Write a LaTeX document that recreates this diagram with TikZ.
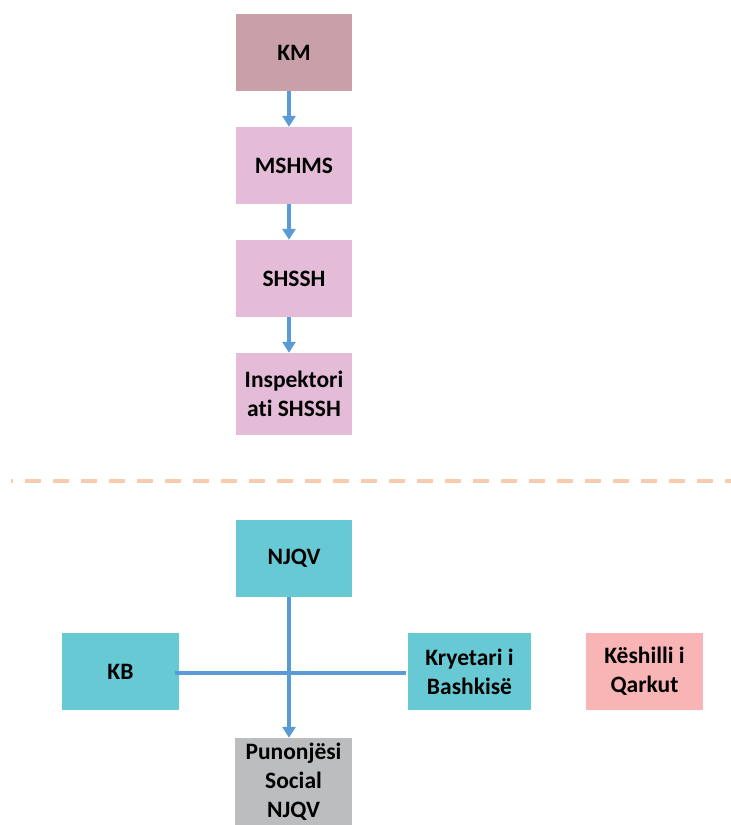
\documentclass[tikz,border=0pt]{standalone}
\usepackage{fontspec}
\setmainfont{Carlito}[Ligatures={NoCommon}]
\usetikzlibrary{arrows.meta}
\definecolor{kmcol}{HTML}{C9A0A8}
\definecolor{pinkcol}{HTML}{E4BCD8}
\definecolor{tealcol}{HTML}{66C9D4}
\definecolor{greycol}{HTML}{BBBDBF}
\definecolor{rosecol}{HTML}{F9B4B5}
\definecolor{linecol}{HTML}{5B9BD5}
\definecolor{dashcol}{HTML}{F8CBAD}
\tikzset{
  box/.style={rectangle, inner sep=0pt, align=center, text=black,
    font=\fontsize{23.5}{29}\selectfont\bfseries},
  conn/.style={draw=linecol, line width=4pt},
  arr/.style={conn, -{Triangle[width=13pt,length=11pt]}},
  sep/.style={draw=dashcol, line width=3.5pt, dash pattern=on 16pt off 12pt, dash phase=14pt}
}
\begin{document}
\begin{tikzpicture}[x=1pt,y=-1pt]
\useasboundingbox (0,0) rectangle (731,825);
\begin{scope}
\clip (0,0) rectangle (731,825);
% top chain
\node[box, fill=kmcol, minimum width=116pt, minimum height=77pt] (km) at (294,52.5) {KM};
\node[box, fill=pinkcol, minimum width=116pt, minimum height=77pt] (ms) at (294,165.5) {MSHMS};
\node[box, fill=pinkcol, minimum width=116pt, minimum height=77pt] (sh) at (294,278.5) {SHSSH};
\node[box, fill=pinkcol, minimum width=116pt, minimum height=82pt] (insp) at (294,394) {Inspektori\\ati SHSSH};
\coordinate (ax) at (289,0);
\draw[arr] (km.south -| ax) -- (ms.north -| ax);
\draw[arr] (ms.south -| ax) -- (sh.north -| ax);
\draw[arr] (sh.south -| ax) -- (insp.north -| ax);
% separator
\coordinate (d1) at (11,481);
\coordinate (d2) at (731,481);
\draw[sep] (d1) -- (d2);
% bottom part
\node[box, fill=tealcol, minimum width=116pt, minimum height=77pt] (njqv) at (294,558.5) {NJQV};
\node[box, fill=tealcol, minimum width=117pt, minimum height=77pt] (kb) at (120.5,671.5) {KB};
\node[box, fill=tealcol, minimum width=123pt, minimum height=77pt] (kry) at (469.5,671.5) {Kryetari i\\Bashkisë};
\node[box, fill=rosecol, minimum width=117pt, minimum height=77pt] (kq) at (644.5,671.5) {Këshilli i\\Qarkut};
\node[box, fill=greycol, minimum width=117pt, minimum height=88pt] (pun) at (293.5,782) {Punonjësi\\Social\\NJQV};
\draw[conn] ([xshift=-4pt,yshift=-1.5pt]kb.east) -- ([xshift=-2pt,yshift=-1.5pt]kry.west);
\draw[arr] (njqv.south -| ax) -- (pun.north -| ax);
\end{scope}
\end{tikzpicture}
\end{document}
